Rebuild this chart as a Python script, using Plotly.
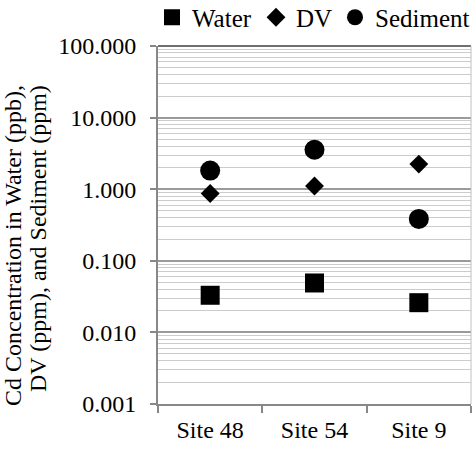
import plotly.graph_objects as go

sites = ["Site 48", "Site 54", "Site 9"]
water = [0.033, 0.049, 0.026]
dv = [0.87, 1.11, 2.24]
sediment = [1.82, 3.55, 0.385]

ytick_vals = [0.001, 0.01, 0.1, 1, 10, 100]
ytick_text = ["0.001", "0.010", "0.100", "1.000", "10.000", "100.000"]
minor_vals = [m * 10.0 ** e for e in range(-3, 2) for m in range(2, 10)]
y_title_1 = "Cd Concentration in Water (ppb),"
y_title_2 = "DV (ppm), and Sediment (ppm)"

W, H = 472, 449
ML, MR, MT, MB = 158, 1, 46, 45
PW, PH = W - ML - MR, H - MT - MB

FONT = "Liberation Serif"
F24 = dict(family=FONT, size=24, color="black")
F25 = dict(family=FONT, size=25, color="black")

fig = go.Figure()
fig.add_trace(go.Scatter(x=sites, y=water, mode="markers", name="Water", legend="legend",
                         marker=dict(symbol="square", size=19, color="black")))
fig.add_trace(go.Scatter(x=sites, y=dv, mode="markers", name="DV", legend="legend2",
                         marker=dict(symbol="diamond", size=14.5, color="black")))
fig.add_trace(go.Scatter(x=sites, y=sediment, mode="markers", name="Sediment", legend="legend3",
                         marker=dict(symbol="circle", size=20, color="black")))

def leg(px):
    return dict(orientation="h", xref="container", yref="container",
                x=(px - 20) / W, y=1 - 17.5 / H,
                xanchor="left", yanchor="middle", font=F25, itemsizing="trace",
                bgcolor="rgba(0,0,0,0)", borderwidth=0)

def ytitle(text, px, py):
    return dict(text=text, xref="paper", yref="paper",
                x=(px - ML) / PW, y=(H - MB - py) / PH,
                xanchor="center", yanchor="middle", textangle=-90, showarrow=False,
                font=dict(family=FONT, size=24, color="black"))

fig.update_layout(
    width=W, height=H,
    margin=dict(l=ML, r=MR, t=MT, b=MB, autoexpand=False),
    paper_bgcolor="white", plot_bgcolor="white",
    font=F24,
    showlegend=True,
    legend=leg(172),
    legend2=leg(276),
    legend3=leg(355),
    shapes=[
        dict(type="line", xref="paper", yref="paper", x0=0, x1=1, y0=1, y1=1,
             line=dict(color="#404040", width=1.5), layer="above"),
        dict(type="line", xref="paper", yref="paper", x0=1, x1=1, y0=0, y1=1,
             line=dict(color="#c0c0c0", width=1), layer="above"),
    ],
    annotations=[ytitle(y_title_1, 13, 246), ytitle(y_title_2, 38, 239)],
)

fig.update_xaxes(type="category", range=[-0.5, 2.5], tickson="boundaries",
                 ticks="outside", ticklen=7, tickcolor="#888888", tickwidth=1.5,
                 showline=True, linecolor="#888888", linewidth=2,
                 showgrid=False, tickfont=F24, ticklabelstandoff=3)

fig.update_yaxes(type="log", range=[-3, 2], tickmode="array",
                 tickvals=ytick_vals, ticktext=ytick_text,
                 ticks="outside", ticklen=6, tickcolor="#888888", tickwidth=1.5,
                 showline=True, linecolor="#888888", linewidth=2,
                 showgrid=True, gridcolor="#9a9a9a", gridwidth=1.5,
                 minor=dict(tickmode="array", tickvals=minor_vals, showgrid=True,
                            gridcolor="#cccccc", gridwidth=1, ticks=""),
                 tickfont=F24, ticklabelstandoff=9, zeroline=False)

fig.write_html("out.html", config={"responsive": False, "displayModeBar": False},
               post_script="document.body.style.margin='0px';")
